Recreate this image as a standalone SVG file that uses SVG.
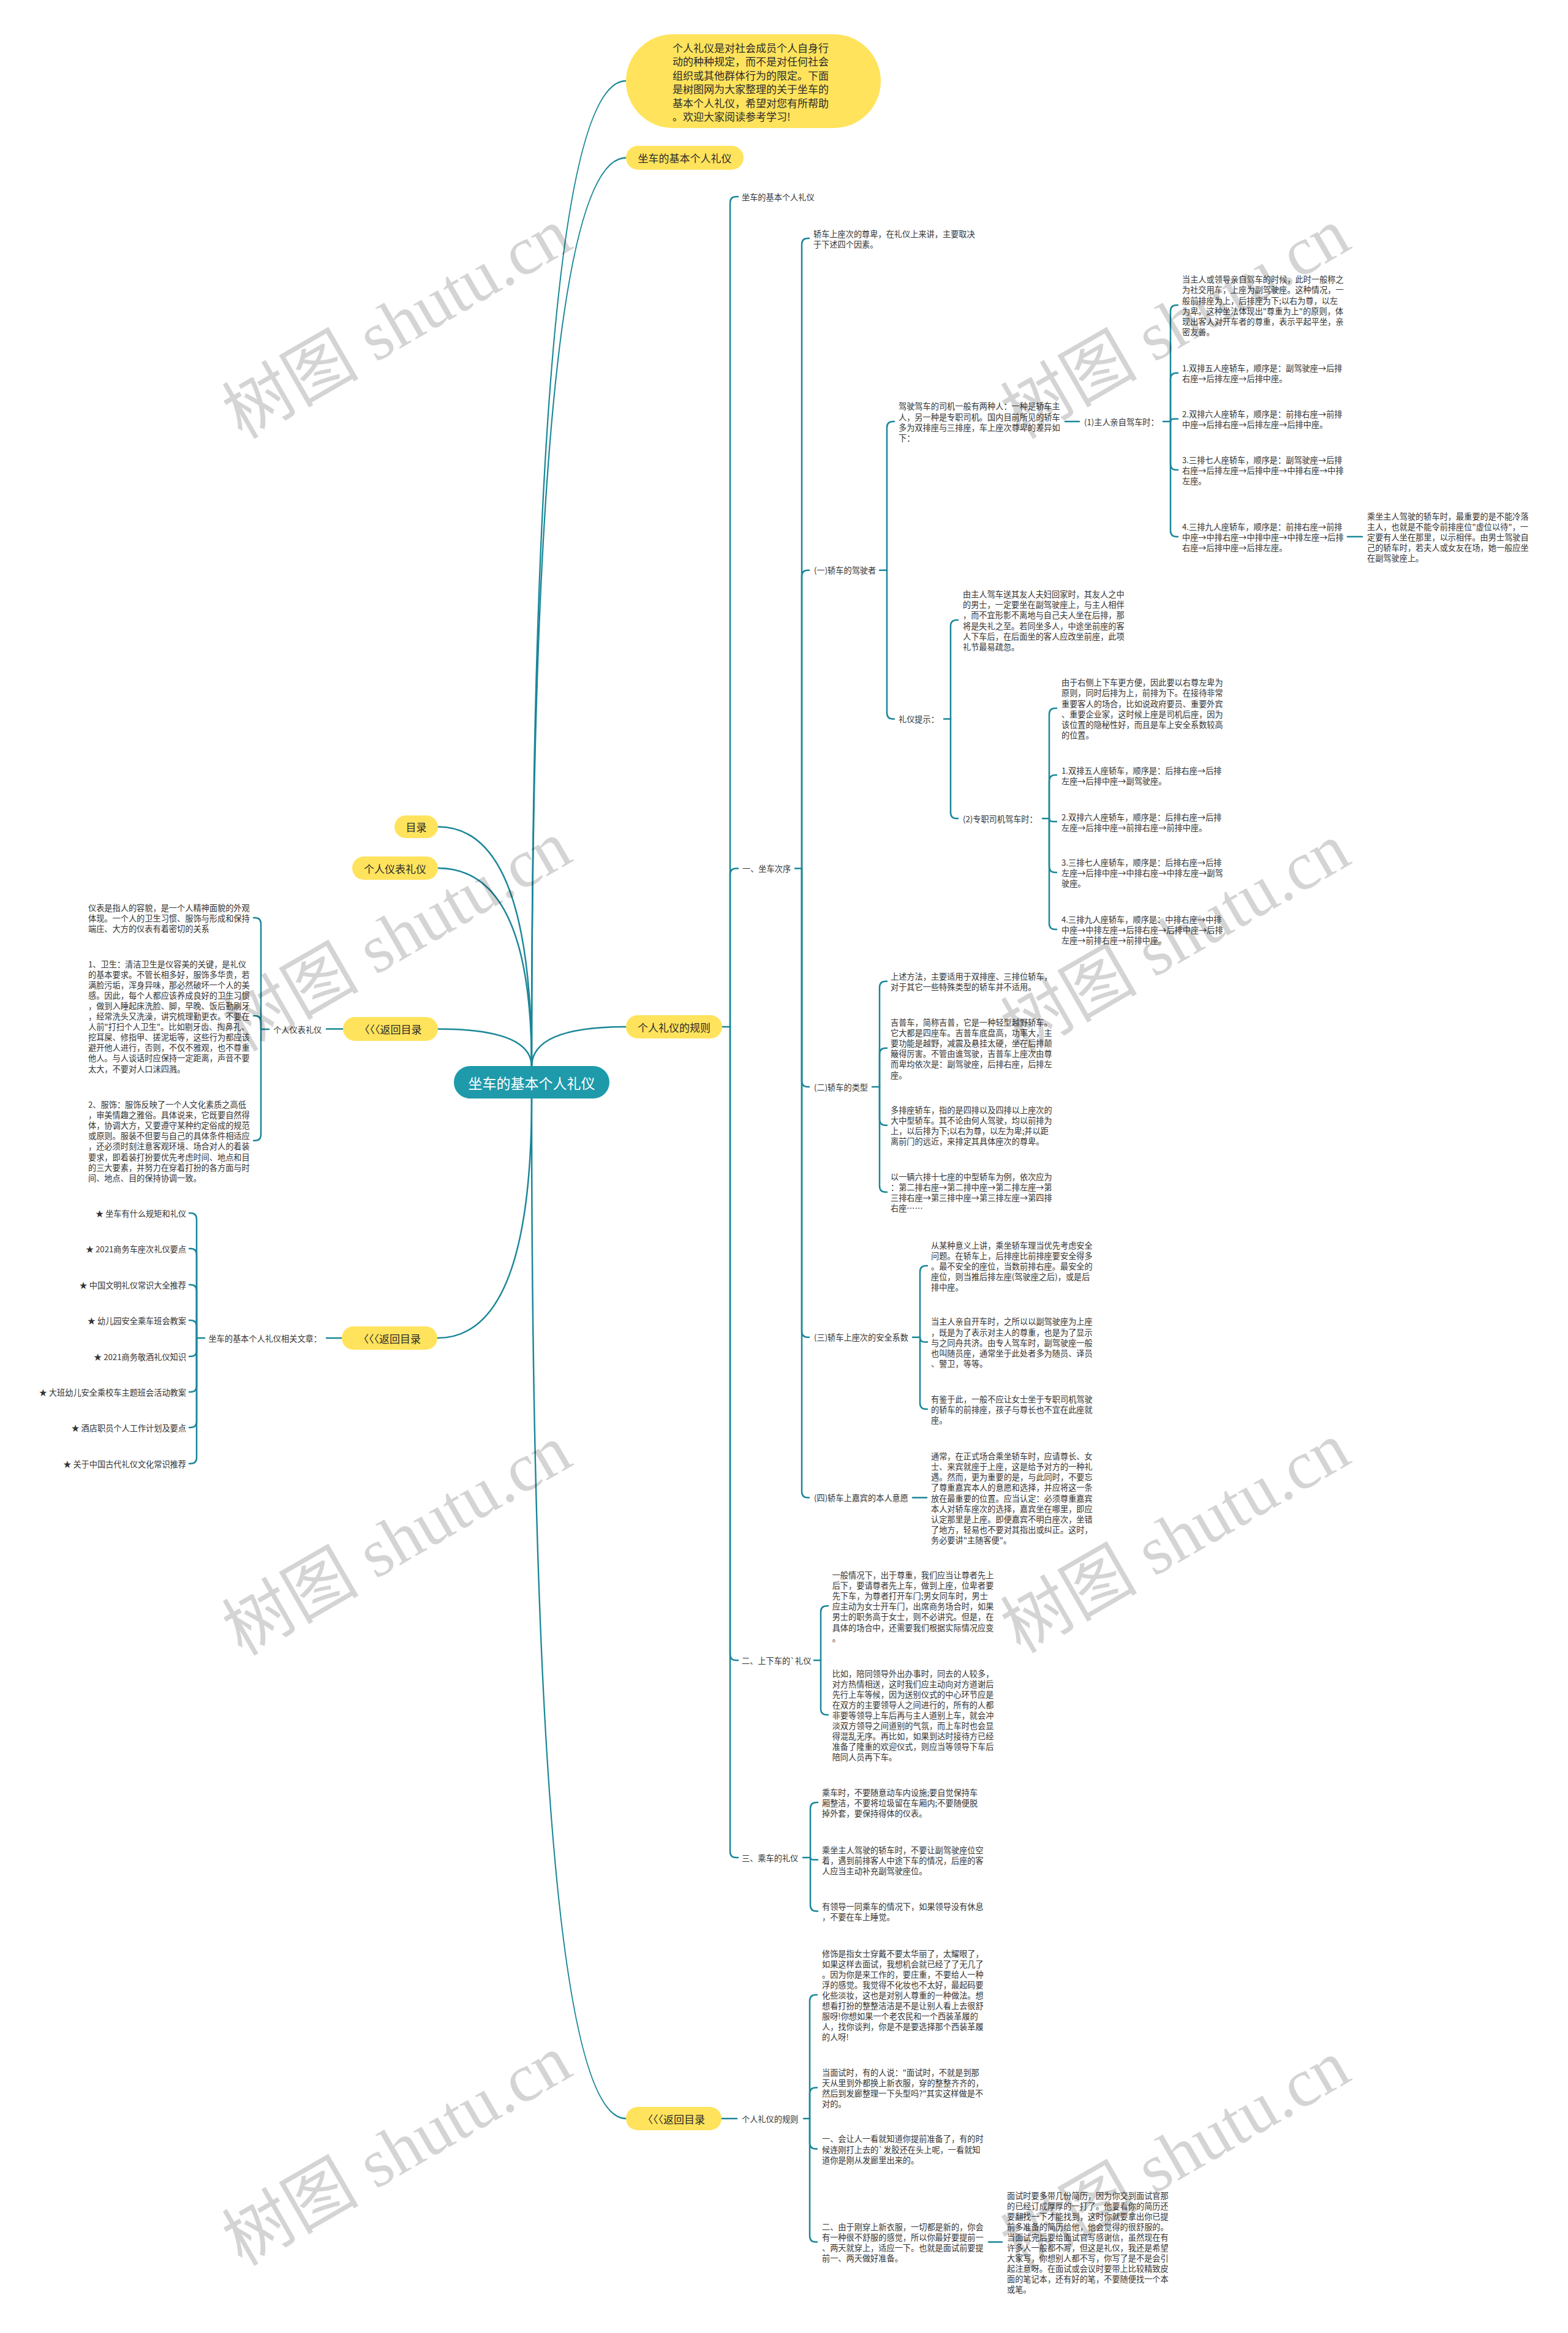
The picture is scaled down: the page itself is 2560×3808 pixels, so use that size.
<svg xmlns="http://www.w3.org/2000/svg" width="2560" height="3808" viewBox="0 0 2560 3808">
<style>
text, tspan { dominant-baseline: central; }
.c { fill: none; stroke: #1a8798; stroke-width: 2.5; stroke-linecap: round; stroke-linejoin: round; }
.y { fill: #ffe35c; }
.nt { font-family: "Noto Sans CJK SC","Liberation Sans",sans-serif; font-size: 17px; fill: #2b2b2b; text-anchor: middle; }
.t { font-family: "Noto Sans CJK SC","Liberation Sans",sans-serif; font-size: 13.2px; fill: #333333; }
.e { text-anchor: end; }
.wm { font-family: "Liberation Serif","Noto Sans CJK SC",serif; font-size: 112px; fill: #000000; fill-opacity: 0.17; text-anchor: middle; }
</style>
<rect x="0" y="0" width="2560" height="3808" fill="#ffffff"/>

<g id="connectors">
<path class="c" d="M868,1741 Q868,132 1022,132"/>
<path class="c" d="M868,1741 Q868,257.5 1022,257.5"/>
<path class="c" d="M868,1741 Q868,1349.5 715,1349.5"/>
<path class="c" d="M868,1741 Q868,1417 715,1417"/>
<path class="c" d="M868,1741 Q868,1679.5 715,1679.5"/>
<path class="c" d="M868,1741 Q868,1676 1022,1676"/>
<path class="c" d="M868,1793 Q868,2184 714,2184"/>
<path class="c" d="M868,1793 Q868,3458 1022,3458"/>

<path class="c" d="M1179,1676 L1192,1676"/>
<path class="c" d="M1192,1676 L1192,331 Q1192,321 1202,321 L1205,321"/>
<path class="c" d="M1192,1676 L1192,1427.6 Q1192,1417.6 1202,1417.6 L1205,1417.6"/>
<path class="c" d="M1192,1676 L1192,2700 Q1192,2710 1202,2710 L1205,2710"/>
<path class="c" d="M1192,1676 L1192,3022 Q1192,3032 1202,3032 L1205,3032"/>

<path class="c" d="M1298,1417.6 L1309,1417.6"/>
<path class="c" d="M1309,1417.6 L1309,399 Q1309,389 1319,389 L1321,389"/>
<path class="c" d="M1309,1417.6 L1309,940.7 Q1309,930.7 1319,930.7 L1321,930.7"/>
<path class="c" d="M1309,1417.6 L1309,1764 Q1309,1774 1319,1774 L1321,1774"/>
<path class="c" d="M1309,1417.6 L1309,2172.8 Q1309,2182.8 1319,2182.8 L1321,2182.8"/>
<path class="c" d="M1309,1417.6 L1309,2434.5 Q1309,2444.5 1319,2444.5 L1321,2444.5"/>

<path class="c" d="M1436,930.7 L1448,930.7"/>
<path class="c" d="M1448,930.7 L1448,698 Q1448,688 1458,688 L1460,688"/>
<path class="c" d="M1448,930.7 L1448,1163.5 Q1448,1173.5 1458,1173.5 L1460,1173.5"/>

<path class="c" d="M1739,688 L1762,688"/>

<path class="c" d="M1899,688 L1911,688"/>
<path class="c" d="M1911,688 L1911,508 Q1911,498 1921,498 L1923,498"/>
<path class="c" d="M1911,688 L1911,618.8 Q1911,608.8 1921,608.8 L1923,608.8"/>
<path class="c" d="M1911,688 Q1911,683.8 1917,683.8 L1923,683.8"/>
<path class="c" d="M1911,688 L1911,757.1 Q1911,767.1 1921,767.1 L1923,767.1"/>
<path class="c" d="M1911,688 L1911,866.1 Q1911,876.1 1921,876.1 L1923,876.1"/>

<path class="c" d="M2200,876.1 L2224,876.1"/>

<path class="c" d="M1541,1173.5 L1552,1173.5"/>
<path class="c" d="M1552,1173.5 L1552,1022 Q1552,1012 1562,1012 L1564,1012"/>
<path class="c" d="M1552,1173.5 L1552,1326 Q1552,1336 1562,1336 L1564,1336"/>

<path class="c" d="M1702,1336 L1713,1336"/>
<path class="c" d="M1713,1336 L1713,1166 Q1713,1156 1723,1156 L1725,1156"/>
<path class="c" d="M1713,1336 L1713,1275 Q1713,1265 1723,1265 L1725,1265"/>
<path class="c" d="M1713,1336 Q1713,1341 1719,1341 L1725,1341"/>
<path class="c" d="M1713,1336 L1713,1414 Q1713,1424 1723,1424 L1725,1424"/>
<path class="c" d="M1713,1336 L1713,1507 Q1713,1517 1723,1517 L1725,1517"/>

<path class="c" d="M1424,1774 L1436,1774"/>
<path class="c" d="M1436,1774 L1436,1611.7 Q1436,1601.7 1446,1601.7 L1448,1601.7"/>
<path class="c" d="M1436,1774 L1436,1720.75 Q1436,1710.75 1446,1710.75 L1448,1710.75"/>
<path class="c" d="M1436,1774 L1436,1826.65 Q1436,1836.65 1446,1836.65 L1448,1836.65"/>
<path class="c" d="M1436,1774 L1436,1935.65 Q1436,1945.65 1446,1945.65 L1448,1945.65"/>

<path class="c" d="M1490,2182.8 L1502,2182.8"/>
<path class="c" d="M1502,2182.8 L1502,2076 Q1502,2066 1512,2066 L1514,2066"/>
<path class="c" d="M1502,2182.8 Q1502,2190.6 1510,2190.6 L1514,2190.6"/>
<path class="c" d="M1502,2182.8 L1502,2290.1 Q1502,2300.1 1512,2300.1 L1514,2300.1"/>

<path class="c" d="M1490,2444.5 L1513,2444.5"/>

<path class="c" d="M1329,2710 L1340,2710"/>
<path class="c" d="M1340,2710 L1340,2631.3 Q1340,2621.3 1350,2621.3 L1352,2621.3"/>
<path class="c" d="M1340,2710 L1340,2789 Q1340,2799 1350,2799 L1352,2799"/>

<path class="c" d="M1311,3032 L1323,3032"/>
<path class="c" d="M1323,3032 L1323,2952.1 Q1323,2942.1 1333,2942.1 L1335,2942.1"/>
<path class="c" d="M1323,3032 Q1323,3035.6 1329,3035.6 L1335,3035.6"/>
<path class="c" d="M1323,3032 L1323,3109.55 Q1323,3119.55 1333,3119.55 L1335,3119.55"/>

<path class="c" d="M1178,3458 L1203,3458"/>
<path class="c" d="M1312,3458 L1322,3458"/>
<path class="c" d="M1322,3458 L1322,3266 Q1322,3256 1332,3256 L1334,3256"/>
<path class="c" d="M1322,3458 L1322,3417.45 Q1322,3407.45 1332,3407.45 L1334,3407.45"/>
<path class="c" d="M1322,3458 L1322,3497.5 Q1322,3507.5 1332,3507.5 L1334,3507.5"/>
<path class="c" d="M1322,3458 L1322,3649.45 Q1322,3659.45 1332,3659.45 L1334,3659.45"/>
<path class="c" d="M1614,3659.45 L1636,3659.45"/>

<path class="c" d="M560,1679.5 L533,1679.5"/>
<path class="c" d="M439,1680 L426,1680"/>
<path class="c" d="M426,1680 L426,1508 Q426,1498 416,1498 L414,1498"/>
<path class="c" d="M426,1680 L426,1668 Q426,1658 416,1658 L414,1658"/>
<path class="c" d="M426,1680 L426,1851.85 Q426,1861.85 416,1861.85 L414,1861.85"/>

<path class="c" d="M558,2184 L533,2184"/>
<path class="c" d="M334,2184 L321,2184"/>
<path class="c" d="M321,2184 L321,1990 Q321,1980 311,1980 L309,1980"/>
<path class="c" d="M321,2184 L321,2048 Q321,2038 311,2038 L309,2038"/>
<path class="c" d="M321,2184 L321,2107 Q321,2097 311,2097 L309,2097"/>
<path class="c" d="M321,2184 L321,2165 Q321,2155 311,2155 L309,2155"/>
<path class="c" d="M321,2184 L321,2204 Q321,2214 311,2214 L309,2214"/>
<path class="c" d="M321,2184 L321,2262 Q321,2272 311,2272 L309,2272"/>
<path class="c" d="M321,2184 L321,2320 Q321,2330 311,2330 L309,2330"/>
<path class="c" d="M321,2184 L321,2379 Q321,2389 311,2389 L309,2389"/>
</g>

<g id="root">
<rect x="741" y="1740" width="254" height="53" rx="26.5" fill="#1e9aab"/>
<text x="868" y="1766.5" text-anchor="middle" style="font-family:'Noto Sans CJK SC','Liberation Sans',sans-serif;font-size:23px;fill:#ffffff">坐车的基本个人礼仪</text>
</g>

<g id="intro">
<rect class="y" x="1022" y="56" width="416" height="153" rx="76.5"/>
<text style="font-family:'Noto Sans CJK SC','Liberation Sans',sans-serif;font-size:17px;fill:#2b2b2b">
<tspan x="1098" y="76.6">个人礼仪是对社会成员个人自身行</tspan>
<tspan x="1098" y="99.1">动的种种规定，而不是对任何社会</tspan>
<tspan x="1098" y="121.6">组织或其他群体行为的限定。下面</tspan>
<tspan x="1098" y="144.1">是树图网为大家整理的关于坐车的</tspan>
<tspan x="1098" y="166.6">基本个人礼仪，希望对您有所帮助</tspan>
<tspan x="1098" y="189.1">。欢迎大家阅读参考学习!</tspan>
</text>
</g>

<g id="n-basic">
<rect class="y" x="1022" y="238" width="192" height="39" rx="19.5"/>
<text class="nt" x="1118" y="257.5">坐车的基本个人礼仪</text>
</g>
<g id="n-toc">
<rect class="y" x="644" y="1331" width="71" height="37" rx="18.5"/>
<text class="nt" x="679.5" y="1349.5">目录</text>
</g>
<g id="n-appearance">
<rect class="y" x="575" y="1398" width="140" height="38" rx="19"/>
<text class="nt" x="645" y="1417">个人仪表礼仪</text>
</g>
<g id="n-back1">
<rect class="y" x="560" y="1660" width="155" height="39" rx="19.5"/>
<text class="nt" x="637.5" y="1679.5">〈〈〈返回目录</text>
</g>
<g id="n-rules">
<rect class="y" x="1022" y="1657" width="157" height="38" rx="19"/>
<text class="nt" x="1100.5" y="1676">个人礼仪的规则</text>
</g>
<g id="n-back2">
<rect class="y" x="558" y="2165" width="156" height="38" rx="19"/>
<text class="nt" x="636" y="2184">〈〈〈返回目录</text>
</g>
<g id="n-back3">
<rect class="y" x="1022" y="3439" width="156" height="38" rx="19"/>
<text class="nt" x="1100" y="3458">〈〈〈返回目录</text>
</g>

<g id="n-t1"><text class="t" x="1211" y="321">坐车的基本个人礼仪</text></g>
<g id="n-t2"><text class="t" x="1212" y="1417.6">一、坐车次序</text></g>
<g id="n-t3"><text class="t" x="1211" y="2710">二、上下车的`礼仪</text></g>
<g id="n-t4"><text class="t" x="1211" y="3032">三、乘车的礼仪</text></g>

<g id="n-k"><text class="t">
<tspan x="1328" y="380.5">轿车上座次的尊卑，在礼仪上来讲，主要取决</tspan>
<tspan x="1328" y="397.6">于下述四个因素。</tspan>
</text></g>

<g id="n-s1"><text class="t" x="1329" y="930.7">(一)轿车的驾驶者</text></g>
<g id="n-s2"><text class="t" x="1329" y="1774">(二)轿车的类型</text></g>
<g id="n-s3"><text class="t" x="1329" y="2182.8">(三)轿车上座次的安全系数</text></g>
<g id="n-s4"><text class="t" x="1329" y="2444.5">(四)轿车上嘉宾的本人意愿</text></g>

<g id="n-d"><text class="t">
<tspan x="1467" y="662.4">驾驶驾车的司机一般有两种人：一种是轿车主</tspan>
<tspan x="1467" y="679.5">人，另一种是专职司机。国内目前所见的轿车</tspan>
<tspan x="1467" y="696.6">多为双排座与三排座，车上座次尊卑的差异如</tspan>
<tspan x="1467" y="713.7">下：</tspan>
</text></g>

<g id="n-owner"><text class="t" x="1770" y="688">(1)主人亲自驾车时：</text></g>

<g id="n-p1"><text class="t">
<tspan x="1930" y="455.3">当主人或领导亲自驾车的时候，此时一般称之</tspan>
<tspan x="1930" y="472.4">为社交用车，上座为副驾驶座。这种情况，一</tspan>
<tspan x="1930" y="489.5">般前排座为上，后排座为下;以右为尊，以左</tspan>
<tspan x="1930" y="506.6">为卑。这种坐法体现出"尊重为上"的原则，体</tspan>
<tspan x="1930" y="523.7">现出客人对开车者的尊重，表示平起平坐，亲</tspan>
<tspan x="1930" y="540.8">密友善。</tspan>
</text></g>
<g id="n-p2"><text class="t">
<tspan x="1930" y="600.2">1.双排五人座轿车，顺序是：副驾驶座→后排</tspan>
<tspan x="1930" y="617.3">右座→后排左座→后排中座。</tspan>
</text></g>
<g id="n-p3"><text class="t">
<tspan x="1930" y="675.2">2.双排六人座轿车，顺序是：前排右座→前排</tspan>
<tspan x="1930" y="692.3">中座→后排右座→后排左座→后排中座。</tspan>
</text></g>
<g id="n-p4"><text class="t">
<tspan x="1930" y="750">3.三排七人座轿车，顺序是：副驾驶座→后排</tspan>
<tspan x="1930" y="767.1">右座→后排左座→后排中座→中排右座→中排</tspan>
<tspan x="1930" y="784.2">左座。</tspan>
</text></g>
<g id="n-p5"><text class="t">
<tspan x="1930" y="859">4.三排九人座轿车，顺序是：前排右座→前排</tspan>
<tspan x="1930" y="876.1">中座→中排右座→中排中座→中排左座→后排</tspan>
<tspan x="1930" y="893.2">右座→后排中座→后排左座。</tspan>
</text></g>
<g id="n-p6"><text class="t">
<tspan x="2232" y="841.8">乘坐主人驾驶的轿车时，最重要的是不能冷落</tspan>
<tspan x="2232" y="858.9">主人，也就是不能令前排座位"虚位以待"，一</tspan>
<tspan x="2232" y="876">定要有人坐在那里，以示相伴。由男士驾驶自</tspan>
<tspan x="2232" y="893.1">己的轿车时，若夫人或女友在场，她一般应坐</tspan>
<tspan x="2232" y="910.2">在副驾驶座上。</tspan>
</text></g>

<g id="n-tip"><text class="t" x="1467" y="1173.5">礼仪提示：</text></g>
<g id="n-q1"><text class="t">
<tspan x="1572" y="969.2">由主人驾车送其友人夫妇回家时，其友人之中</tspan>
<tspan x="1572" y="986.3">的男士，一定要坐在副驾驶座上，与主人相伴</tspan>
<tspan x="1572" y="1003.4">，而不宜形影不离地与自己夫人坐在后排，那</tspan>
<tspan x="1572" y="1020.5">将是失礼之至。若同坐多人，中途坐前座的客</tspan>
<tspan x="1572" y="1037.6">人下车后，在后面坐的客人应改坐前座，此项</tspan>
<tspan x="1572" y="1054.7">礼节最易疏忽。</tspan>
</text></g>
<g id="n-driver"><text class="t" x="1572" y="1336">(2)专职司机驾车时：</text></g>
<g id="n-r1"><text class="t">
<tspan x="1733" y="1113.3">由于右侧上下车更方便，因此要以右尊左卑为</tspan>
<tspan x="1733" y="1130.4">原则，同时后排为上，前排为下。在接待非常</tspan>
<tspan x="1733" y="1147.5">重要客人的场合，比如说政府要员、重要外宾</tspan>
<tspan x="1733" y="1164.6">、重要企业家，这时候上座是司机后座，因为</tspan>
<tspan x="1733" y="1181.7">该位置的隐秘性好，而且是车上安全系数较高</tspan>
<tspan x="1733" y="1198.8">的位置。</tspan>
</text></g>
<g id="n-r2"><text class="t">
<tspan x="1733" y="1256.5">1.双排五人座轿车，顺序是：后排右座→后排</tspan>
<tspan x="1733" y="1273.6">左座→后排中座→副驾驶座。</tspan>
</text></g>
<g id="n-r3"><text class="t">
<tspan x="1733" y="1332.5">2.双排六人座轿车，顺序是：后排右座→后排</tspan>
<tspan x="1733" y="1349.6">左座→后排中座→前排右座→前排中座。</tspan>
</text></g>
<g id="n-r4"><text class="t">
<tspan x="1733" y="1406.9">3.三排七人座轿车，顺序是：后排右座→后排</tspan>
<tspan x="1733" y="1424">左座→后排中座→中排右座→中排左座→副驾</tspan>
<tspan x="1733" y="1441.1">驶座。</tspan>
</text></g>
<g id="n-r5"><text class="t">
<tspan x="1733" y="1499.9">4.三排九人座轿车，顺序是：中排右座→中排</tspan>
<tspan x="1733" y="1517">中座→中排左座→后排右座→后排中座→后排</tspan>
<tspan x="1733" y="1534.1">左座→前排右座→前排中座。</tspan>
</text></g>

<g id="n-st1"><text class="t">
<tspan x="1454" y="1593.2">上述方法，主要适用于双排座、三排位轿车，</tspan>
<tspan x="1454" y="1610.3">对于其它一些特殊类型的轿车并不适用。</tspan>
</text></g>
<g id="n-st2"><text class="t">
<tspan x="1454" y="1668">吉普车，简称吉普，它是一种轻型越野轿车。</tspan>
<tspan x="1454" y="1685.1">它大都是四座车。吉普车底盘高，功率大，主</tspan>
<tspan x="1454" y="1702.2">要功能是越野，减震及悬挂太硬，坐在后排颠</tspan>
<tspan x="1454" y="1719.3">簸得厉害。不管由谁驾驶，吉普车上座次由尊</tspan>
<tspan x="1454" y="1736.4">而卑均依次是：副驾驶座，后排右座，后排左</tspan>
<tspan x="1454" y="1753.5">座。</tspan>
</text></g>
<g id="n-st3"><text class="t">
<tspan x="1454" y="1811">多排座轿车，指的是四排以及四排以上座次的</tspan>
<tspan x="1454" y="1828.1">大中型轿车。其不论由何人驾驶，均以前排为</tspan>
<tspan x="1454" y="1845.2">上，以后排为下;以右为尊，以左为卑;并以距</tspan>
<tspan x="1454" y="1862.3">离前门的远近，来排定其具体座次的尊卑。</tspan>
</text></g>
<g id="n-st4"><text class="t">
<tspan x="1454" y="1920">以一辆六排十七座的中型轿车为例，依次应为</tspan>
<tspan x="1454" y="1937.1">：第二排右座→第二排中座→第二排左座→第</tspan>
<tspan x="1454" y="1954.2">三排右座→第三排中座→第三排左座→第四排</tspan>
<tspan x="1454" y="1971.3">右座……</tspan>
</text></g>

<g id="n-u1"><text class="t">
<tspan x="1520" y="2031.8">从某种意义上讲，乘坐轿车理当优先考虑安全</tspan>
<tspan x="1520" y="2048.9">问题。在轿车上，后排座比前排座要安全得多</tspan>
<tspan x="1520" y="2066">。最不安全的座位，当数前排右座。最安全的</tspan>
<tspan x="1520" y="2083.1">座位，则当推后排左座(驾驶座之后)，或是后</tspan>
<tspan x="1520" y="2100.2">排中座。</tspan>
</text></g>
<g id="n-u2"><text class="t">
<tspan x="1520" y="2156.4">当主人亲自开车时，之所以以副驾驶座为上座</tspan>
<tspan x="1520" y="2173.5">，既是为了表示对主人的尊重，也是为了显示</tspan>
<tspan x="1520" y="2190.6">与之同舟共济。由专人驾车时，副驾驶座一般</tspan>
<tspan x="1520" y="2207.7">也叫随员座，通常坐于此处者多为随员、译员</tspan>
<tspan x="1520" y="2224.8">、警卫，等等。</tspan>
</text></g>
<g id="n-u3"><text class="t">
<tspan x="1520" y="2283">有鉴于此，一般不应让女士坐于专职司机驾驶</tspan>
<tspan x="1520" y="2300.1">的轿车的前排座，孩子与尊长也不宜在此座就</tspan>
<tspan x="1520" y="2317.2">座。</tspan>
</text></g>
<g id="n-u4"><text class="t">
<tspan x="1520" y="2376.1">通常，在正式场合乘坐轿车时，应请尊长、女</tspan>
<tspan x="1520" y="2393.2">士、来宾就座于上座，这是给予对方的一种礼</tspan>
<tspan x="1520" y="2410.3">遇。然而，更为重要的是，与此同时，不要忘</tspan>
<tspan x="1520" y="2427.4">了尊重嘉宾本人的意愿和选择，并应将这一条</tspan>
<tspan x="1520" y="2444.5">放在最重要的位置。应当认定：必须尊重嘉宾</tspan>
<tspan x="1520" y="2461.6">本人对轿车座次的选择，嘉宾坐在哪里，即应</tspan>
<tspan x="1520" y="2478.7">认定那里是上座。即便嘉宾不明白座次，坐错</tspan>
<tspan x="1520" y="2495.8">了地方，轻易也不要对其指出或纠正。这时，</tspan>
<tspan x="1520" y="2512.9">务必要讲"主随客便"。</tspan>
</text></g>

<g id="n-v1"><text class="t">
<tspan x="1358.7" y="2570">一般情况下，出于尊重，我们应当让尊者先上</tspan>
<tspan x="1358.7" y="2587.1">后下，要请尊者先上车，做到上座，位卑者要</tspan>
<tspan x="1358.7" y="2604.2">先下车，为尊者打开车门;男女同车时，男士</tspan>
<tspan x="1358.7" y="2621.3">应主动为女士开车门，出席商务场合时，如果</tspan>
<tspan x="1358.7" y="2638.4">男士的职务高于女士，则不必讲究。但是，在</tspan>
<tspan x="1358.7" y="2655.5">具体的场合中，还需要我们根据实际情况应变</tspan>
<tspan x="1358.7" y="2672.6">。</tspan>
</text></g>
<g id="n-v2"><text class="t">
<tspan x="1358.7" y="2730.6">比如，陪同领导外出办事时，同去的人较多，</tspan>
<tspan x="1358.7" y="2747.7">对方热情相送，这时我们应主动向对方道谢后</tspan>
<tspan x="1358.7" y="2764.8">先行上车等候，因为送别仪式的中心环节应是</tspan>
<tspan x="1358.7" y="2781.9">在双方的主要领导人之间进行的，所有的人都</tspan>
<tspan x="1358.7" y="2799">非要等领导上车后再与主人道别上车，就会冲</tspan>
<tspan x="1358.7" y="2816.1">淡双方领导之间道别的气氛，而上车时也会显</tspan>
<tspan x="1358.7" y="2833.2">得混乱无序。再比如，如果到达时接待方已经</tspan>
<tspan x="1358.7" y="2850.3">准备了隆重的欢迎仪式，则应当等领导下车后</tspan>
<tspan x="1358.7" y="2867.4">陪同人员再下车。</tspan>
</text></g>

<g id="n-w1"><text class="t">
<tspan x="1342" y="2925">乘车时，不要随意动车内设施;要自觉保持车</tspan>
<tspan x="1342" y="2942.1">厢整洁，不要将垃圾留在车厢内;不要随便脱</tspan>
<tspan x="1342" y="2959.2">掉外套，要保持得体的仪表。</tspan>
</text></g>
<g id="n-w2"><text class="t">
<tspan x="1342" y="3018.5">乘坐主人驾驶的轿车时，不要让副驾驶座位空</tspan>
<tspan x="1342" y="3035.6">着，遇到前排客人中途下车的情况，后座的客</tspan>
<tspan x="1342" y="3052.7">人应当主动补充副驾驶座位。</tspan>
</text></g>
<g id="n-w3"><text class="t">
<tspan x="1342" y="3111">有领导一同乘车的情况下，如果领导没有休息</tspan>
<tspan x="1342" y="3128.1">，不要在车上睡觉。</tspan>
</text></g>

<g id="n-rules2"><text class="t" x="1211" y="3458">个人礼仪的规则</text></g>
<g id="n-x1"><text class="t">
<tspan x="1342" y="3187.6">修饰是指女士穿戴不要太华丽了，太耀眼了，</tspan>
<tspan x="1342" y="3204.7">如果这样去面试，我想机会就已经了了无几了</tspan>
<tspan x="1342" y="3221.8">。因为你是来工作的，要庄重，不要给人一种</tspan>
<tspan x="1342" y="3238.9">浮的感觉。我觉得不化妆也不太好，最起码要</tspan>
<tspan x="1342" y="3256">化些淡妆，这也是对别人尊重的一种做法。想</tspan>
<tspan x="1342" y="3273.1">想看打扮的整整洁洁是不是让别人看上去很舒</tspan>
<tspan x="1342" y="3290.2">服呀!你想如果一个老农民和一个西装革履的</tspan>
<tspan x="1342" y="3307.3">人，找你谈判，你是不是要选择那个西装革履</tspan>
<tspan x="1342" y="3324.4">的人呀!</tspan>
</text></g>
<g id="n-x2"><text class="t">
<tspan x="1342" y="3381.8">当面试时，有的人说："面试时，不就是到那</tspan>
<tspan x="1342" y="3398.9">天从里到外都换上新衣服，穿的整整齐齐的，</tspan>
<tspan x="1342" y="3416">然后到发廊整理一下头型吗?"其实这样做是不</tspan>
<tspan x="1342" y="3433.1">对的。</tspan>
</text></g>
<g id="n-x3"><text class="t">
<tspan x="1342" y="3490.4">一、会让人一看就知道你提前准备了，有的时</tspan>
<tspan x="1342" y="3507.5">候连刚打上去的`发胶还在头上呢，一看就知</tspan>
<tspan x="1342" y="3524.6">道你是刚从发廊里出来的。</tspan>
</text></g>
<g id="n-x4"><text class="t">
<tspan x="1342" y="3633.8">二、由于刚穿上新衣服，一切都是新的，你会</tspan>
<tspan x="1342" y="3650.9">有一种很不舒服的感觉，所以你最好要提前一</tspan>
<tspan x="1342" y="3668">、两天就穿上，适应一下。也就是面试前要提</tspan>
<tspan x="1342" y="3685.1">前一、两天做好准备。</tspan>
</text></g>
<g id="n-x5"><text class="t">
<tspan x="1644" y="3582.5">面试时要多带几份简历，因为你交到面试官那</tspan>
<tspan x="1644" y="3599.6">的已经订成厚厚的一打了。他要看你的简历还</tspan>
<tspan x="1644" y="3616.7">要翻找一下才能找到，这时你就要拿出你已提</tspan>
<tspan x="1644" y="3633.8">前多准备的简历给他，他会觉得的很舒服的。</tspan>
<tspan x="1644" y="3650.9">当面试完后要给面试官写感谢信，虽然现在有</tspan>
<tspan x="1644" y="3668">许多人一般都不写，但这是礼仪，我还是希望</tspan>
<tspan x="1644" y="3685.1">大家写，你想别人都不写，你写了是不是会引</tspan>
<tspan x="1644" y="3702.2">起注意呀。在面试或会议时要带上比较精致皮</tspan>
<tspan x="1644" y="3719.3">面的笔记本，还有好的笔，不要随便找一个本</tspan>
<tspan x="1644" y="3736.4">或笔。</tspan>
</text></g>

<g id="n-app"><text class="t e" x="525.3" y="1680">个人仪表礼仪</text></g>
<g id="n-l1"><text class="t">
<tspan x="144" y="1480.9">仪表是指人的容貌，是一个人精神面貌的外观</tspan>
<tspan x="144" y="1498">体现。一个人的卫生习惯、服饰与形成和保持</tspan>
<tspan x="144" y="1515.1">端庄、大方的仪表有着密切的关系</tspan>
</text></g>
<g id="n-l2"><text class="t">
<tspan x="144" y="1572.5">1、卫生：清洁卫生是仪容美的关键，是礼仪</tspan>
<tspan x="144" y="1589.6">的基本要求。不管长相多好，服饰多华贵，若</tspan>
<tspan x="144" y="1606.7">满脸污垢，浑身异味，那必然破坏一个人的美</tspan>
<tspan x="144" y="1623.8">感。因此，每个人都应该养成良好的卫生习惯</tspan>
<tspan x="144" y="1640.9">，做到入睡起床洗脸、脚，早晚、饭后勤刷牙</tspan>
<tspan x="144" y="1658">，经常洗头又洗澡，讲究梳理勤更衣。不要在</tspan>
<tspan x="144" y="1675.1">人前"打扫个人卫生"。比如剔牙齿、掏鼻孔、</tspan>
<tspan x="144" y="1692.2">挖耳屎、修指甲、搓泥垢等，这些行为都应该</tspan>
<tspan x="144" y="1709.3">避开他人进行，否则，不仅不雅观，也不尊重</tspan>
<tspan x="144" y="1726.4">他人。与人谈话时应保持一定距离，声音不要</tspan>
<tspan x="144" y="1743.5">太大，不要对人口沫四溅。</tspan>
</text></g>
<g id="n-l3"><text class="t">
<tspan x="144" y="1802">2、服饰：服饰反映了一个人文化素质之高低</tspan>
<tspan x="144" y="1819.1">，审美情趣之雅俗。具体说来，它既要自然得</tspan>
<tspan x="144" y="1836.2">体，协调大方，又要遵守某种约定俗成的规范</tspan>
<tspan x="144" y="1853.3">或原则。服装不但要与自己的具体条件相适应</tspan>
<tspan x="144" y="1870.4">，还必须时刻注意客观环境、场合对人的着装</tspan>
<tspan x="144" y="1887.5">要求，即着装打扮要优先考虑时间、地点和目</tspan>
<tspan x="144" y="1904.6">的三大要素，并努力在穿着打扮的各方面与时</tspan>
<tspan x="144" y="1921.7">间、地点、目的保持协调一致。</tspan>
</text></g>

<g id="n-related"><text class="t e" x="525" y="2184">坐车的基本个人礼仪相关文章：</text></g>
<g id="n-star1"><text class="t e" x="304" y="1980">★ 坐车有什么规矩和礼仪</text></g>
<g id="n-star2"><text class="t e" x="304" y="2038">★ 2021商务车座次礼仪要点</text></g>
<g id="n-star3"><text class="t e" x="304" y="2097">★ 中国文明礼仪常识大全推荐</text></g>
<g id="n-star4"><text class="t e" x="304" y="2155">★ 幼儿园安全乘车班会教案</text></g>
<g id="n-star5"><text class="t e" x="304" y="2214">★ 2021商务敬酒礼仪知识</text></g>
<g id="n-star6"><text class="t e" x="304" y="2272">★ 大班幼儿安全乘校车主题班会活动教案</text></g>
<g id="n-star7"><text class="t e" x="304" y="2330">★ 酒店职员个人工作计划及要点</text></g>
<g id="n-star8"><text class="t e" x="304" y="2389">★ 关于中国古代礼仪文化常识推荐</text></g>

<g id="watermarks">
<text class="wm" x="648" y="528" transform="rotate(-30 648 528)">树图 shutu.cn</text>
<text class="wm" x="1919" y="528" transform="rotate(-30 1919 528)">树图 shutu.cn</text>
<text class="wm" x="648" y="1528" transform="rotate(-30 648 1528)">树图 shutu.cn</text>
<text class="wm" x="1919" y="1532" transform="rotate(-30 1919 1532)">树图 shutu.cn</text>
<text class="wm" x="648" y="2514" transform="rotate(-30 648 2514)">树图 shutu.cn</text>
<text class="wm" x="1919" y="2510" transform="rotate(-30 1919 2510)">树图 shutu.cn</text>
<text class="wm" x="648" y="3510" transform="rotate(-30 648 3510)">树图 shutu.cn</text>
<text class="wm" x="1919" y="3518" transform="rotate(-30 1919 3518)">树图 shutu.cn</text>
</g>
</svg>
